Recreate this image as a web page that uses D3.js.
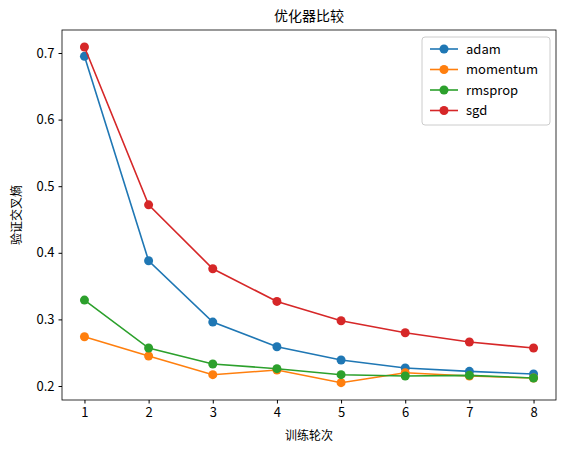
<!DOCTYPE html><html><head><meta charset="utf-8"><script src="https://d3js.org/d3.v7.min.js"></script>
<style>body{margin:0;background:#fff}text{font-family:"Noto Sans CJK SC","DejaVu Sans",sans-serif}</style></head><body><svg id="c" width="567" height="453"></svg><script>
const epochs=[1,2,3,4,5,6,7,8];
const seriesNames=["adam","momentum","rmsprop","sgd"];
const colors=["#1f77b4","#ff7f0e","#2ca02c","#d62728"];
const adam=[0.695,0.388,0.296,0.259,0.239,0.227,0.222,0.218];
const momentum=[0.274,0.245,0.217,0.224,0.205,0.220,0.215,0.212];
const rmsprop=[0.329,0.257,0.233,0.226,0.217,0.215,0.216,0.212];
const sgd=[0.709,0.472,0.376,0.327,0.298,0.280,0.266,0.257];
const yTicks=[0.2,0.3,0.4,0.5,0.6,0.7];
const data=[adam,momentum,rmsprop,sgd];
const svg=d3.select("#c");
const L=62,R=556,T=30,B=400;
const x=d3.scaleLinear().domain([0.65,8.35]).range([L,R]);
const y=d3.scaleLinear().domain([0.2,0.7]).range([386,53]);
svg.append("rect").attr("x",L).attr("y",T).attr("width",R-L).attr("height",B-T).attr("fill","none").attr("stroke","#000").attr("stroke-width",0.8);
const xa=svg.append("g").attr("transform",`translate(0,${B})`).call(d3.axisBottom(x).tickValues(epochs).tickSize(3.5).tickPadding(4));
const ya=svg.append("g").attr("transform",`translate(${L},0)`).call(d3.axisLeft(y).tickValues(yTicks).tickFormat(d3.format(".1f")).tickSize(3.5).tickPadding(4));
[xa,ya].forEach(a=>{a.select(".domain").remove();a.selectAll("text").attr("font-size",13).attr("font-family","DejaVu Sans");});
data.forEach((s,i)=>{
 svg.append("path").datum(s).attr("fill","none").attr("stroke",colors[i]).attr("stroke-width",1.6)
  .attr("d",d3.line().x((d,j)=>x(epochs[j])).y(d=>y(d)));
 svg.selectAll(null).data(s).enter().append("circle").attr("cx",(d,j)=>x(epochs[j])).attr("cy",d=>y(d)).attr("r",4.5).attr("fill",colors[i]);
});
svg.append("text").attr("x",(L+R)/2).attr("y",21).attr("text-anchor","middle").attr("font-size",14).text("优化器比较");
svg.append("text").attr("x",(L+R)/2).attr("y",440).attr("text-anchor","middle").attr("font-size",12).text("训练轮次");
svg.append("text").attr("transform",`translate(21,${(T+B)/2}) rotate(-90)`).attr("text-anchor","middle").attr("font-size",12).text("验证交叉熵");
const lg=svg.append("g");
lg.append("rect").attr("x",422).attr("y",37).attr("width",128).attr("height",88).attr("rx",3).attr("fill","#fff").attr("stroke","#ccc");
seriesNames.forEach((n,i)=>{
 const yy=49+i*20.5;
 lg.append("line").attr("x1",430).attr("x2",458).attr("y1",yy).attr("y2",yy).attr("stroke",colors[i]).attr("stroke-width",1.6);
 lg.append("circle").attr("cx",444).attr("cy",yy).attr("r",4.5).attr("fill",colors[i]);
 lg.append("text").attr("x",466).attr("y",yy+4.5).attr("font-size",13).attr("font-family","DejaVu Sans").text(n);
});
</script></body></html>
